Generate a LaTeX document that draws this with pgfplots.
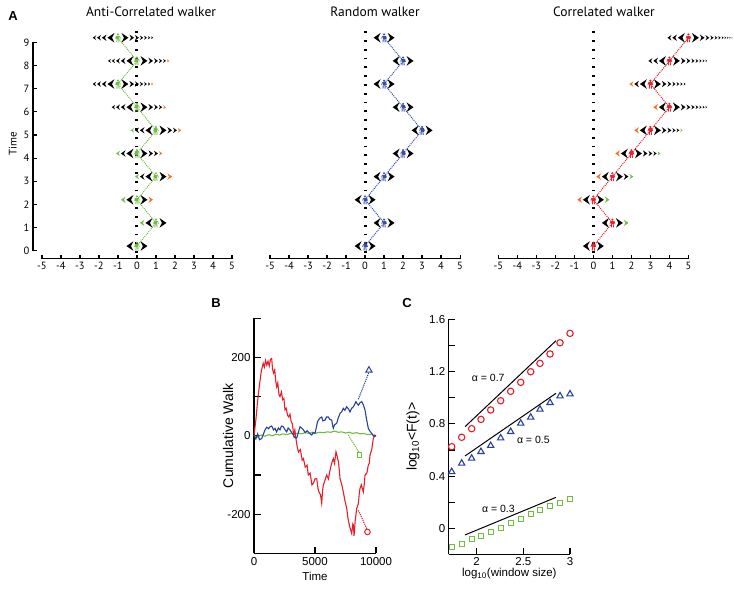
\documentclass[border=0pt]{standalone}
\usepackage{pgfplots}
\pgfplotsset{compat=1.18}
\usepackage{pgfplotstable}
\usepackage{fontspec}
\setmainfont{Liberation Sans}
\newfontfamily\ptsans{PT Sans}

\definecolor{wgreen}{RGB}{110,190,70}
\definecolor{worange}{RGB}{240,110,40}
\definecolor{wred}{RGB}{232,35,45}
\definecolor{wblue}{RGB}{55,80,165}
\definecolor{bred}{RGB}{232,30,40}
\definecolor{bblue}{RGB}{40,65,155}
\definecolor{bgreen}{RGB}{110,190,60}

% one chevron: direction, tip x, half height, colour
\newcommand\chev[4]{%
  \pgfmathsetmacro\cA{#1*(#2)}%
  \pgfmathsetmacro\cB{#1*(#2-1.45*#3)}%
  \pgfmathsetmacro\cC{#1*(#2-0.95*#3)}%
  \fill[#4] (\cA,0) -- (\cB,#3) -- (\cC,0) -- (\cB,-#3) -- cycle;}
% trail of shrinking chevrons: direction, count, colour of last one
\newcommand\trail[3]{%
  \ifnum#2>0\relax
    \xdef\tipx{10.5}%
    \foreach \i in {1,...,#2}{%
      \pgfmathsetmacro\hh{3.2*0.85^(\i-1)}%
      \pgfmathsetmacro\tnew{\tipx+1.5*\hh+0.8}%
      \ifnum\i=#2\relax\def\tcol{#3}\else\def\tcol{black}\fi
      \chev{#1}{\tnew}{\hh}{\tcol}%
      \xdef\tipx{\tnew}%
    }%
  \fi}
% walker: figure colour, left count, left colour, right count, right colour
\newcommand\W[5]{\tikz[x=1pt,y=1pt]{%
  \path[use as bounding box] (-11,-5) rectangle (11,5);
  \trail{-1}{#2}{#3}\trail{1}{#4}{#5}%
  \chev{-1}{10.5}{4.8}{black}\chev{1}{10.5}{4.8}{black}%
  \fill[#1] (0,3.3) circle (1.2);
  \fill[#1] (-1.5,2) rectangle (1.5,-1.2);
  \draw[#1,line width=0.9] (-0.8,-1) -- (-1.1,-4.5) (0.8,-1) -- (1.1,-4.5);
  \draw[#1,line width=0.8] (-1.5,1.8) -- (-2.4,-0.8) (1.5,1.8) -- (2.4,-0.8);}}
\def\Wp#1/#2/#3/#4\relax#5{\W{#5}{#1}{#2}{#3}{#4}}
\newcommand\Wmeta[1]{\edef\wtmp{\pgfplotspointmeta}\expandafter\Wp\wtmp\relax{#1}}

\pgfplotstableread{
x y m
0 0.2 0/black/0/black
1 1.2 1/wgreen/0/black
0 2.2 1/wgreen/1/worange
1 3.2 2/wgreen/1/worange
0 4.2 2/wgreen/3/worange
1 5.2 3/wgreen/3/worange
0 6.2 3/black/4/worange
-1 7.2 3/black/6/worange
0 8.2 4/black/5/worange
-1 9.2 3/black/6/black
}\anti

\pgfplotstableread{
x y m
0 0.2 0/black/0/black
1 1.2 0/black/0/black
0 2.2 0/black/0/black
1 3.2 0/black/0/black
2 4.2 0/black/0/black
3 5.2 0/black/0/black
2 6.2 0/black/0/black
1 7.2 0/black/0/black
2 8.2 0/black/0/black
1 9.2 0/black/0/black
}\rand

\pgfplotstableread{
x y m
0 0.2 0/black/0/black
1 1.2 0/black/1/wgreen
0 2.2 1/worange/1/wgreen
1 3.2 1/worange/2/wgreen
2 4.2 1/worange/4/wgreen
3 5.2 1/worange/5/wgreen
4 6.2 1/worange/7/black
3 7.2 2/worange/6/black
4 8.2 2/black/7/black
5 9.2 2/black/10/black
}\corr

\pgfplotsset{
  walk/.style={
    anchor=south west, scale only axis, width=199pt, height=230.3pt,
    xmin=-5.47, xmax=5, ymin=-0.35, ymax=9.6, clip=false,
    axis lines*=left, axis line style={draw=none},
    tick align=inside, major tick length=3.5pt,
    tick style={black, line width=1.2pt},
    xtick={-5,-4,-3,-2,-1,0,1,2,3,4,5},
    xticklabels={-5,-4,-3,-2,-1,0,1,2,3,4,5},
    tick label style={font=\ptsans\fontsize{10.5}{12}\selectfont},
    label style={font=\ptsans\fontsize{11}{13}\selectfont},
  },
  walker/.style={
    draw=none, mark=none, point meta=explicit symbolic,
    nodes near coords={\Wmeta{#1}},
    every node near coord/.append style={anchor=center, inner sep=0pt},
  },
  zeroline/.style={black, line width=3pt, dash pattern=on 1.8pt off 7pt},
  panel/.style={
    anchor=south west, scale only axis, clip=false,
    axis lines*=left, axis line style={line width=1.1pt},
    tick align=inside, major tick length=6.5pt,
    tick style={black, line width=1.1pt},
    scaled ticks=false,
    tick label style={font=\fontsize{11.5}{13}\selectfont},
    xlabel style={font=\fontsize{11.5}{13}\selectfont},
    ylabel style={font=\fontsize{14}{16}\selectfont},
  },
}

\begin{document}
\begin{tikzpicture}
\path[use as bounding box] (0,0) rectangle (734pt,589pt);

% ---------- A: anti-correlated ----------
\begin{axis}[walk, at={(33pt,330.2pt)},
  ytick={0,1,2,3,4,5,6,7,8,9}, yticklabels={0,1,2,3,4,5,6,7,8,9},
  ylabel={Time}]
\draw[line width=1.4pt] (axis cs:-5,-0.35) -- (axis cs:5,-0.35);
\draw[line width=1.4pt] (axis cs:-5.47,0) -- (axis cs:-5.47,9);
\addplot[zeroline] coordinates {(0,-0.1) (0,9.6)};
\addplot[wgreen, densely dotted, line width=1pt] table[x=x,y=y] {\anti};
\addplot[walker=wgreen] table[x=x,y=y,meta=m] {\anti};
\end{axis}

% ---------- A: random ----------
\begin{axis}[walk, at={(261.1pt,330.2pt)}, ytick=\empty]
\draw[line width=1.4pt] (axis cs:-5,-0.35) -- (axis cs:5,-0.35);
\addplot[zeroline] coordinates {(0,-0.1) (0,9.6)};
\addplot[wblue, densely dotted, line width=1pt] table[x=x,y=y] {\rand};
\addplot[walker=wblue] table[x=x,y=y,meta=m] {\rand};
\end{axis}

% ---------- A: correlated ----------
\begin{axis}[walk, at={(489.4pt,330.2pt)}, ytick=\empty]
\draw[line width=1.4pt] (axis cs:-5,-0.35) -- (axis cs:5,-0.35);
\addplot[zeroline] coordinates {(0,-0.1) (0,9.6)};
\addplot[wred, densely dotted, line width=1pt] table[x=x,y=y] {\corr};
\addplot[walker=wred] table[x=x,y=y,meta=m] {\corr};
\end{axis}

\begin{scope}[font=\ptsans\fontsize{13.5}{15}\selectfont]
\node at (151pt,577pt) {Anti-Correlated walker};
\node at (375pt,577pt) {Random walker};
\node at (604pt,577pt) {Correlated walker};
\end{scope}
\begin{scope}[font=\bfseries\fontsize{13}{15}\selectfont]
\node at (13pt,573pt) {A};
\node at (216pt,286pt) {B};
\node at (407pt,286pt) {C};
\end{scope}

% ---------- B ----------
\begin{axis}[panel, at={(254pt,35.5pt)}, width=122pt, height=235.4pt,
  xmin=0, xmax=10000, ymin=-300, ymax=300,
  xtick={0,5000,10000}, xticklabels={0,5000,10000},
  ytick={-300,-200,-100,0,100,200,300}, yticklabels={,-200,,0,,200,},
  xlabel={Time}, ylabel={Cumulative Walk},
  xlabel style={at={(axis description cs:0.5,-0.098)}, anchor=center},
  ylabel style={at={(axis description cs:-0.213,0.5)}, anchor=center}]
\addplot[bgreen, line width=1.1pt] coordinates {
(0,0) (300,-3) (600,2) (900,-1) (1200,3) (1500,0) (1800,4) (2100,2) (2400,5)
(2700,3) (3000,6) (3300,4) (3600,7) (3900,5) (4200,8) (4500,6) (4800,9)
(5100,7) (5400,9) (5700,8) (6000,10) (6300,9) (6600,12) (6900,9) (7200,10)
(7500,7) (7800,9) (8100,6) (8400,8) (8700,5) (9000,6) (9300,3) (9600,4)
(9800,1) (10000,0)};
\addplot[bred, line width=1.1pt] coordinates {
(0,0) (150,40) (300,90) (450,130) (600,165) (750,185) (850,175) (950,192)
(1050,180) (1150,190) (1250,178) (1350,195) (1450,197) (1520,170) (1600,160)
(1700,168) (1780,140) (1860,125) (1950,135) (2050,105) (2130,100) (2250,112)
(2350,92) (2450,95) (2540,66) (2650,70) (2750,52) (2850,48) (2950,55)
(3050,36) (3150,30) (3250,2) (3350,15) (3450,-10) (3550,-30) (3650,-41)
(3800,-35) (3950,-62) (4050,-58) (4200,-80) (4350,-75) (4450,-100) (4600,-95)
(4750,-125) (4870,-121) (5000,-110) (5140,-109) (5250,-135) (5350,-145)
(5450,-150) (5550,-172) (5620,-140) (5680,-126) (5800,-115) (5960,-100)
(6100,-110) (6230,-88) (6350,-72) (6500,-58) (6600,-70) (6720,-41) (6800,-50)
(6920,-66) (7000,-90) (7050,-109) (7200,-125) (7320,-143) (7450,-165)
(7600,-185) (7700,-210) (7820,-228) (7920,-240) (8010,-249) (8100,-225)
(8150,-228) (8200,-255) (8300,-215) (8420,-185) (8560,-172) (8620,-150)
(8690,-134) (8800,-125) (8960,-143) (9050,-120) (9100,-100) (9250,-95)
(9370,-75) (9450,-70) (9510,-49) (9650,-35) (9780,-7) (9900,2) (10000,0)};
\addplot[bblue, line width=1.1pt] coordinates {
(0,0) (150,-8) (300,5) (450,-10) (630,-7) (780,5) (900,15) (1050,22)
(1200,18) (1310,23) (1450,25) (1600,15) (1720,19) (1850,10) (2000,20)
(2130,15) (2250,25) (2400,23) (2550,15) (2680,10) (2800,20) (2950,15)
(3100,8) (3230,2) (3350,-5) (3500,-6) (3650,10) (3770,23) (3900,20)
(4050,15) (4200,8) (4350,13) (4450,10) (4600,5) (4730,2) (4850,8) (5000,6)
(5100,20) (5200,35) (5280,40) (5400,45) (5550,48) (5650,38) (5820,40)
(5950,48) (6090,48) (6200,42) (6370,40) (6450,25) (6500,19) (6600,28)
(6780,32) (6900,45) (7050,57) (7200,62) (7320,70) (7450,65) (7600,74)
(7750,68) (7870,61) (8000,70) (8150,74) (8250,80) (8360,87) (8450,82)
(8560,78) (8700,85) (8830,87) (8950,80) (9100,66) (9180,50) (9240,40)
(9300,30) (9370,19) (9500,12) (9650,6) (9750,2) (9840,-2) (10000,0)};
\addplot[bblue, densely dotted, line width=1.1pt] coordinates {(8550,93) (9400,160)};
\addplot[bred, densely dotted, line width=1.1pt] coordinates {(8560,-190) (9260,-238)};
\addplot[bgreen, densely dotted, line width=1.1pt] coordinates {(7730,2) (8600,-42)};
\addplot[only marks, mark=triangle, mark size=3.6pt, bblue, line width=1pt] coordinates {(9420,167)};
\addplot[only marks, mark=o, mark size=2.8pt, bred, line width=1pt] coordinates {(9300,-245)};
\addplot[only marks, mark=square, mark size=2.4pt, bgreen, line width=1pt] coordinates {(8650,-48)};
\end{axis}

% ---------- C ----------
\begin{axis}[panel, at={(448.7pt,34.6pt)}, width=121.3pt, height=235pt,
  xmin=1.7, xmax=3, ymin=-0.2, ymax=1.6,
  xtick={2,2.5,3}, xticklabels={2,2.5,3},
  ytick={0,0.2,0.4,0.6,0.8,1.0,1.2,1.4,1.6},
  yticklabels={0,,0.4,,0.8,,1.2,,1.6},
  xlabel={log\textsubscript{10}(window size)},
  ylabel={log\textsubscript{10}<F(t)>},
  xlabel style={at={(axis description cs:0.5,-0.083)}, anchor=center},
  ylabel style={at={(axis description cs:-0.294,0.5)}, anchor=center}]
\addplot[black, line width=1pt] coordinates {(1.875,0.778) (2.85,1.437)};
\addplot[black, line width=1pt] coordinates {(1.875,0.554) (2.85,1.034)};
\addplot[black, line width=1pt] coordinates {(1.875,-0.051) (2.85,0.237)};
\addplot[only marks, mark=o, mark size=3.2pt, bred, line width=1.1pt] coordinates {
(1.732,0.625) (1.839,0.697) (1.946,0.763) (2.046,0.834) (2.150,0.906)
(2.257,0.977) (2.364,1.049) (2.472,1.118) (2.579,1.199) (2.678,1.263)
(2.786,1.335) (2.893,1.421) (3.0,1.493)};
\addplot[only marks, mark=triangle, mark size=3.6pt, bblue, line width=1.1pt] coordinates {
(1.732,0.433) (1.839,0.498) (1.946,0.536) (2.046,0.587) (2.150,0.633)
(2.257,0.691) (2.364,0.740) (2.472,0.804) (2.579,0.850) (2.678,0.911)
(2.786,0.962) (2.893,1.013) (3.0,1.028)};
\addplot[only marks, mark=square, mark size=2.6pt, bgreen, line width=1.1pt] coordinates {
(1.732,-0.141) (1.839,-0.120) (1.946,-0.084) (2.046,-0.059) (2.150,-0.031)
(2.257,0.0) (2.364,0.038) (2.472,0.069) (2.579,0.107) (2.678,0.140)
(2.786,0.173) (2.893,0.196) (3.0,0.224)};
\begin{scope}[font=\fontsize{10.5}{12}\selectfont]
\node at (axis cs:2.124,1.149) {α = 0.7};
\node at (axis cs:2.607,0.676) {α = 0.5};
\node at (axis cs:2.232,0.150) {α = 0.3};
\end{scope}
\end{axis}
\end{tikzpicture}
\end{document}
